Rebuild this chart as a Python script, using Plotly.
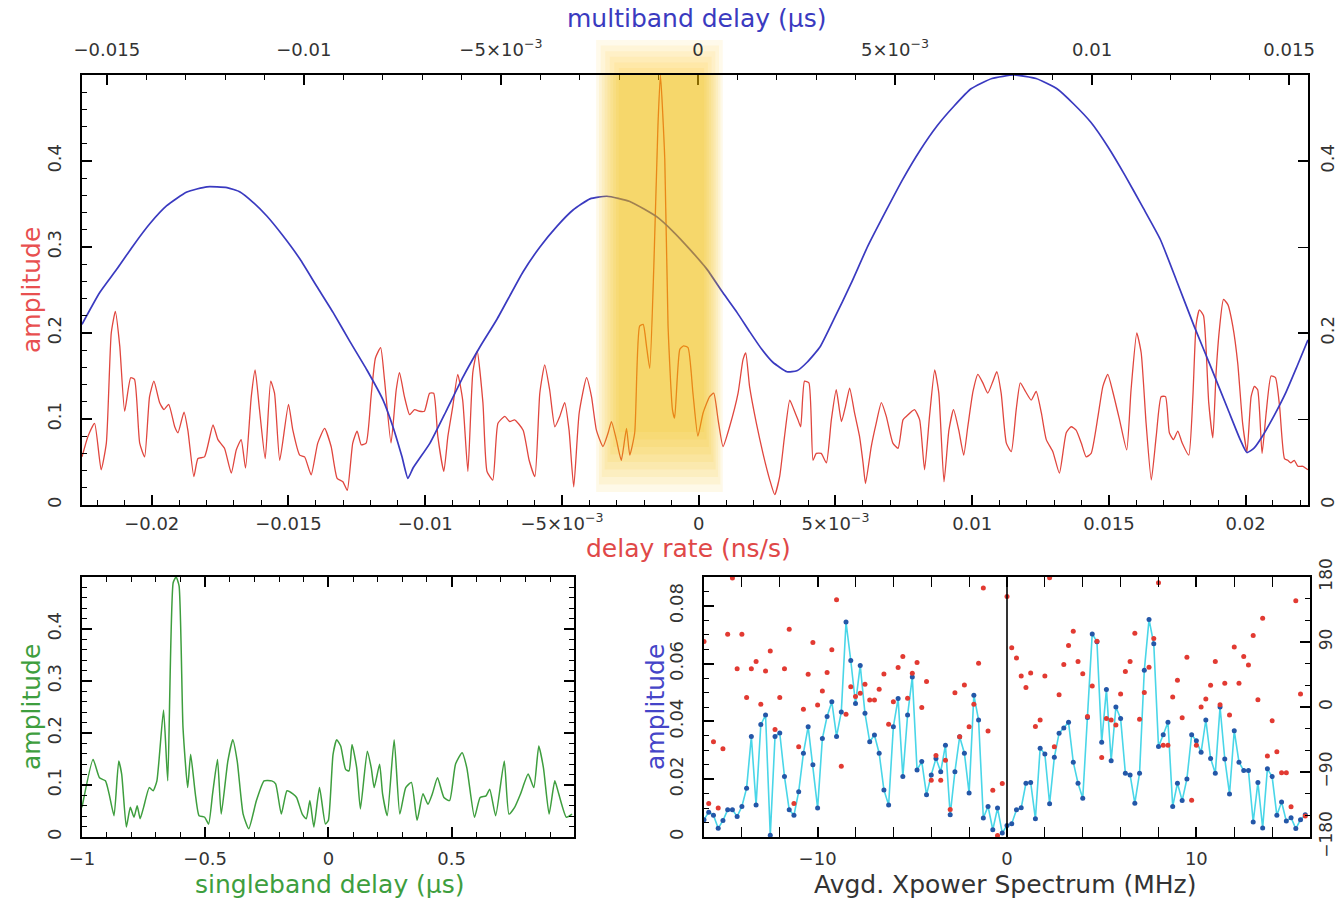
import plotly.graph_objects as go

# ---------------- data ----------------
# top panel: red = amplitude vs delay rate (ns/s)
rate_top = [
    -0.02255, -0.02233, -0.02209, -0.02185, -0.02166, -0.02148, -0.02133, -0.02117, -0.02099, -0.02077,
    -0.02063, -0.02044, -0.02026, -0.02008, -0.01992, -0.01971, -0.01955, -0.01938, -0.01916, -0.01904,
    -0.01882, -0.01868, -0.01846, -0.01831, -0.01807, -0.01776, -0.01758, -0.01734, -0.01709, -0.01691,
    -0.01673, -0.01657, -0.01636, -0.01622, -0.01606, -0.01585, -0.01565, -0.01551, -0.01532, -0.01500,
    -0.01484, -0.01459, -0.01441, -0.01417, -0.01393, -0.01368, -0.01344, -0.01322, -0.01301, -0.01285,
    -0.01265, -0.01249, -0.01234, -0.01216, -0.01198, -0.01182, -0.01163, -0.01149, -0.01125, -0.01106,
    -0.01094, -0.01076, -0.01057, -0.01039, -0.01021, -0.01003, -0.00984, -0.00969, -0.00954, -0.00932,
    -0.00917, -0.00899, -0.00881, -0.00863, -0.00844, -0.00826, -0.00810, -0.00789, -0.00774, -0.00753,
    -0.00734, -0.00709, -0.00691, -0.00673, -0.00642, -0.00620, -0.00599, -0.00581, -0.00563, -0.00545,
    -0.00526, -0.00508, -0.00490, -0.00474, -0.00457, -0.00437, -0.00410, -0.00392, -0.00374, -0.00350,
    -0.00331, -0.00319, -0.00301, -0.00283, -0.00264, -0.00252, -0.00234, -0.00216, -0.00203, -0.00191,
    -0.00179, -0.00164, -0.00149, -0.00140, -0.00124, -0.00112, -0.00096, -0.00088, -0.00069, -0.00055,
    -0.00039, -0.00021, -0.00003, 0.00016, 0.00040, 0.00055, 0.00071, 0.00089, 0.00113, 0.00144,
    0.00162, 0.00172, 0.00186, 0.00211, 0.00235, 0.00260, 0.00278, 0.00296, 0.00314, 0.00333,
    0.00348, 0.00363, 0.00373, 0.00387, 0.00403, 0.00418, 0.00430, 0.00448, 0.00467, 0.00485,
    0.00503, 0.00522, 0.00537, 0.00552, 0.00570, 0.00588, 0.00601, 0.00610, 0.00631, 0.00649,
    0.00668, 0.00686, 0.00710, 0.00729, 0.00747,
    0.00759, 0.00789, 0.00808, 0.00826, 0.00844, 0.00863, 0.00878, 0.00897, 0.00915, 0.00932,
    0.00951, 0.00969, 0.00984, 0.01003, 0.01021, 0.01039, 0.01057, 0.01076, 0.01090, 0.01106,
    0.01125, 0.01143, 0.01161, 0.01176, 0.01195, 0.01216, 0.01234, 0.01253, 0.01271, 0.01295,
    0.01319, 0.01344, 0.01362, 0.01380, 0.01399, 0.01417, 0.01435, 0.01460, 0.01478, 0.01496,
    0.01514, 0.01539, 0.01565, 0.01581, 0.01602, 0.01618, 0.01636, 0.01655, 0.01673, 0.01691,
    0.01707, 0.01721, 0.01736, 0.01752, 0.01768, 0.01792, 0.01807, 0.01819, 0.01831, 0.01846,
    0.01865, 0.01880, 0.01892, 0.01904, 0.01919, 0.01935, 0.01953, 0.01971, 0.01989, 0.02005,
    0.02020, 0.02032, 0.02044, 0.02060, 0.02075, 0.02093, 0.02109, 0.02124, 0.02142, 0.02154,
    0.02166, 0.02178, 0.02191, 0.02209, 0.02228,
]
amp_rate = [
    0.056, 0.080, 0.095, 0.041, 0.072, 0.200, 0.225, 0.185, 0.109, 0.148,
    0.146, 0.072, 0.056, 0.126, 0.144, 0.119, 0.111, 0.117, 0.091, 0.084,
    0.108, 0.087, 0.033, 0.054, 0.056, 0.093, 0.076, 0.066, 0.037, 0.064,
    0.076, 0.043, 0.126, 0.157, 0.111, 0.054, 0.144, 0.130, 0.052, 0.117,
    0.087, 0.058, 0.056, 0.035, 0.072, 0.089, 0.068, 0.031, 0.027, 0.017,
    0.072, 0.086, 0.070, 0.072, 0.126, 0.171, 0.183, 0.146, 0.072, 0.134,
    0.154, 0.126, 0.105, 0.111, 0.109, 0.109, 0.130, 0.130, 0.080, 0.039,
    0.080, 0.115, 0.152, 0.122, 0.039, 0.154, 0.179, 0.119, 0.039, 0.029,
    0.095, 0.103, 0.097, 0.099, 0.087, 0.052, 0.033, 0.130, 0.163, 0.134,
    0.091, 0.103, 0.119, 0.087, 0.021, 0.107, 0.148, 0.126, 0.087, 0.068,
    0.084, 0.097, 0.076, 0.052, 0.089, 0.058, 0.084, 0.208, 0.210, 0.185,
    0.159, 0.278, 0.441, 0.500, 0.402, 0.208, 0.111, 0.101, 0.181, 0.185,
    0.183, 0.130, 0.080, 0.107, 0.126, 0.130, 0.099, 0.068, 0.091, 0.130,
    0.169, 0.177, 0.138, 0.095, 0.060, 0.029, 0.012, 0.033, 0.080, 0.122,
    0.111, 0.099, 0.091, 0.144, 0.142, 0.052, 0.060, 0.060, 0.049, 0.099,
    0.134, 0.097, 0.115, 0.136, 0.107, 0.080, 0.049, 0.025, 0.068, 0.095,
    0.119, 0.103, 0.072, 0.066, 0.099,
    0.103, 0.111, 0.099, 0.041, 0.103, 0.157, 0.130, 0.027, 0.087, 0.111,
    0.087, 0.058, 0.091, 0.132, 0.152, 0.142, 0.130, 0.144, 0.155, 0.130,
    0.072, 0.062, 0.111, 0.142, 0.132, 0.122, 0.132, 0.107, 0.076, 0.062,
    0.037, 0.084, 0.091, 0.087, 0.072, 0.056, 0.060, 0.103, 0.138, 0.152,
    0.132, 0.099, 0.064, 0.134, 0.200, 0.177, 0.095, 0.029, 0.080, 0.126,
    0.126, 0.084, 0.076, 0.086, 0.072, 0.058, 0.126, 0.210, 0.227, 0.220,
    0.119, 0.078, 0.154, 0.204, 0.239, 0.233, 0.208, 0.165, 0.095, 0.062,
    0.126, 0.138, 0.134, 0.060, 0.107, 0.150, 0.148, 0.115, 0.054, 0.052,
    0.049, 0.052, 0.045, 0.045, 0.041,
]

# top panel: blue = amplitude vs multiband delay (us)
mbd = [
    -0.01563, -0.01518, -0.01475, -0.01434, -0.01391, -0.01348, -0.01297, -0.01246, -0.01195, -0.01162,
    -0.01129, -0.01094, -0.01053, -0.01010, -0.00967, -0.00926, -0.00883, -0.00840, -0.00799, -0.00774,
    -0.00751, -0.00736, -0.00723, -0.00680, -0.00637, -0.00596, -0.00553, -0.00510, -0.00444, -0.00401,
    -0.00358, -0.00317, -0.00274, -0.00231, -0.00173, -0.00104, -0.00063, -0.00020, 0.00023, 0.00063,
    0.00099, 0.00132, 0.00162, 0.00190, 0.00226, 0.00251, 0.00277, 0.00310, 0.00345, 0.00388,
    0.00431, 0.00477, 0.00520, 0.00563, 0.00607, 0.00650, 0.00693, 0.00746, 0.00802, 0.00858,
    0.00911, 0.00954, 0.00997, 0.01041, 0.01084, 0.01129, 0.01173, 0.01216, 0.01259, 0.01302,
    0.01345, 0.01376, 0.01393, 0.01411, 0.01431, 0.01462, 0.01492, 0.01520, 0.01548,
]
amp_mbd = [
    0.210, 0.247, 0.274, 0.301, 0.327, 0.348, 0.364, 0.370, 0.369, 0.364,
    0.352, 0.336, 0.313, 0.286, 0.254, 0.224, 0.190, 0.157, 0.122, 0.091,
    0.056, 0.031, 0.043, 0.072, 0.111, 0.149, 0.184, 0.216, 0.271, 0.300,
    0.324, 0.343, 0.356, 0.359, 0.353, 0.335, 0.318, 0.297, 0.274, 0.247,
    0.224, 0.201, 0.181, 0.166, 0.155, 0.156, 0.166, 0.184, 0.216, 0.257,
    0.301, 0.342, 0.379, 0.412, 0.441, 0.464, 0.484, 0.496, 0.500, 0.496,
    0.484, 0.466, 0.445, 0.416, 0.383, 0.346, 0.309, 0.259, 0.208, 0.160,
    0.111, 0.076, 0.061, 0.066, 0.079, 0.104, 0.131, 0.161, 0.192,
]

# bottom-left: singleband delay
sb_delay = [
    -1.0, -0.955, -0.929, -0.905, -0.890, -0.870, -0.851, -0.839, -0.820, -0.804,
    -0.789, -0.776, -0.764, -0.750, -0.727, -0.711, -0.696, -0.669, -0.652, -0.630,
    -0.618, -0.606, -0.590, -0.571, -0.559, -0.540, -0.525, -0.502, -0.486, -0.470,
    -0.450, -0.435, -0.408, -0.388, -0.370, -0.346, -0.323, -0.292, -0.261, -0.230,
    -0.214, -0.191, -0.168, -0.144, -0.129, -0.106, -0.090, -0.075, -0.059, -0.036,
    -0.012, 0.0, 0.019, 0.034, 0.050, 0.070, 0.084, 0.096, 0.115, 0.130,
    0.158, 0.174, 0.186, 0.208, 0.220, 0.239, 0.267, 0.290, 0.314, 0.337,
    0.360, 0.384, 0.404, 0.422, 0.443, 0.469, 0.492, 0.516, 0.543, 0.562,
    0.593, 0.616, 0.640, 0.655, 0.679, 0.714, 0.733, 0.756, 0.780, 0.811,
    0.834, 0.854, 0.873, 0.896, 0.919, 0.935, 0.966, 0.989,
]
sb_amp = [
    0.057, 0.149, 0.114, 0.108, 0.083, 0.041, 0.146, 0.121, 0.019, 0.057,
    0.038, 0.060, 0.035, 0.057, 0.095, 0.089, 0.108, 0.244, 0.108, 0.489,
    0.500, 0.483, 0.210, 0.095, 0.159, 0.083, 0.041, 0.038, 0.025, 0.083,
    0.149, 0.044, 0.146, 0.187, 0.146, 0.044, 0.016, 0.070, 0.108, 0.108,
    0.102, 0.044, 0.089, 0.083, 0.076, 0.044, 0.035, 0.070, 0.019, 0.095,
    0.025, 0.032, 0.159, 0.187, 0.175, 0.130, 0.127, 0.178, 0.133, 0.054,
    0.165, 0.133, 0.095, 0.140, 0.083, 0.041, 0.187, 0.044, 0.095, 0.105,
    0.032, 0.083, 0.063, 0.083, 0.114, 0.076, 0.070, 0.140, 0.162, 0.133,
    0.038, 0.076, 0.079, 0.092, 0.041, 0.146, 0.044, 0.057, 0.083, 0.121,
    0.095, 0.175, 0.133, 0.044, 0.108, 0.083, 0.038, 0.044,
]

# bottom-right: averaged cross-power spectrum, 0.25 MHz channels from -16 to +15.75 MHz
freq = [-16 + 0.25 * i for i in range(128)]
xp_amp = [
    0.0060, 0.0086, 0.0075, 0.0030, 0.0057, 0.0094, 0.0094, 0.0071, 0.0106, 0.0169,
    0.0348, 0.0111, 0.0389, 0.0422, 0.0006, 0.0348, 0.0360, 0.0209, 0.0094, 0.0075,
    0.0157, 0.0290, 0.0382, 0.0250, 0.0100, 0.0341, 0.0417, 0.0468, 0.0348, 0.0433,
    0.0744, 0.0611, 0.0462, 0.0594, 0.0428, 0.0330, 0.0353, 0.0290, 0.0163, 0.0111,
    0.0382, 0.0479, 0.0209, 0.0422, 0.0554, 0.0232, 0.0261, 0.0146, 0.0215, 0.0272,
    0.0226, 0.0318, 0.0077, 0.0226, 0.0347, 0.0290, 0.0152, 0.0491, 0.0405, 0.0066,
    0.0106, 0.0025, 0.0100, 0.0014,
    0.0040, 0.0046, 0.0094, 0.0101, 0.0186, 0.0189, 0.0063, 0.0307, 0.0287, 0.0115,
    0.0276, 0.0359, 0.0377, 0.0397, 0.0259, 0.0186, 0.0134, 0.0414, 0.0703, 0.0676,
    0.0328, 0.0511, 0.0264, 0.0450, 0.0410, 0.0221, 0.0215, 0.0117, 0.0221, 0.0577,
    0.0753, 0.0669, 0.0313, 0.0354, 0.0397, 0.0106, 0.0186, 0.0126, 0.0201, 0.0354,
    0.0333, 0.0293, 0.0405, 0.0272, 0.0221, 0.0450, 0.0270, 0.0149, 0.0368, 0.0259,
    0.0230, 0.0230, 0.0052, 0.0189, 0.0031, 0.0236, 0.0209, 0.0075, 0.0121, 0.0055,
    0.0067, 0.0029, 0.0060, 0.0077,
]
xp_phase = [
    90.7, -133.7, -48, -139.7, -57.8, 100.9, 178.6, 52.8, 100.9, 13,
    52.8, 62.9, 3.7, 50, 77.7, -31, 13, 52.8, 107.8, -133.7,
    -55, -3.2, 45.3, 89.3, 2.8, 22.2, 47.7, 79.1, 148.5, -81.9,
    -10.2, 28.2, 14.4, 19, 31.5, 9.7, 9.7, 24.5, 45.8, -24,
    7.4, 54.6, 69.9, 12, 46.7, 61.5, -0.6, 35.2, -101.3, -67.1,
    -101.3, -73.6, -142, 19.9, -41.2, 30.5, -27.3, 3.7, 60.6, 164.7,
    -33.3, -115.2, -178, -106,
    153, 82, 68, 43, 27, 47, -27, -18, 43, 179,
    -55, 17, 59, 85, 105, 63, 46, -13, 29, 91,
    -70, -16, -18, -25, 18, 49, 63, 102, -17, 20,
    55, 95, 172, -53, -53, 14, 37, -15, 69, -129,
    -53, 0, 11, 30, 63, 3, 33, -11, 83, 33,
    70, 58, 99, 10, 123, -68, -19, -62, -91, -91,
    -138, 147, 18, -151,
]

rate_ticks = [-0.02, -0.015, -0.01, -0.005, 0, 0.005, 0.01, 0.015, 0.02]
rate_ticktext = ["\u22120.02", "\u22120.015", "\u22120.01", "\u22125\u00d710<sup>\u22123</sup>", "0",
                 "5\u00d710<sup>\u22123</sup>", "0.01", "0.015", "0.02"]
mbd_ticks = [-0.015, -0.01, -0.005, 0, 0.005, 0.01, 0.015]
mbd_ticktext = ["\u22120.015", "\u22120.01", "\u22125\u00d710<sup>\u22123</sup>", "0",
                "5\u00d710<sup>\u22123</sup>", "0.01", "0.015"]

# ---------------- styling ----------------
FONT = "DejaVu Sans"
TICKFONT = dict(family=FONT, size=18, color="#333333")
RED = "#E0463E"
BLUE = "#3A3AC0"
GREEN = "#3E9E3E"


def axis(**kw):
    base = dict(showline=True, linecolor="black", linewidth=1.8, ticks="inside",
                tickcolor="black", ticklen=10, tickwidth=1.5, showgrid=False,
                zeroline=False, tickfont=TICKFONT, automargin=False)
    base.update(kw)
    return base


def minor(dt, n=5):
    return dict(ticks="inside", ticklen=n, tickcolor="black", tickwidth=1.2, dtick=dt, showgrid=False)


W, H = 1337, 909
def px(x):
    return x / W
def py(y):
    return 1 - y / H

fig = go.Figure()

fig.add_trace(go.Scatter(x=rate_top, y=amp_rate, mode="lines",
                         line=dict(color=RED, width=1.3, shape="spline", smoothing=0.5),
                         xaxis="x", yaxis="y", hoverinfo="skip"))
# same red series attached (invisibly) to the right-hand amplitude axis so that axis is drawn
fig.add_trace(go.Scatter(x=rate_top, y=amp_rate, mode="lines", line=dict(width=0),
                         opacity=0, xaxis="x", yaxis="y2", hoverinfo="skip"))
fig.add_trace(go.Scatter(x=mbd, y=amp_mbd, mode="lines",
                         line=dict(color=BLUE, width=1.7, shape="spline", smoothing=0.5),
                         xaxis="x2", yaxis="y", hoverinfo="skip"))
fig.add_trace(go.Scatter(x=sb_delay, y=sb_amp, mode="lines",
                         line=dict(color=GREEN, width=1.5, shape="spline", smoothing=0.5),
                         xaxis="x3", yaxis="y3", hoverinfo="skip"))
fig.add_trace(go.Scatter(x=freq, y=xp_amp, mode="lines+markers",
                         line=dict(color="#49D6E8", width=1.6),
                         marker=dict(color="#2457A8", size=5),
                         xaxis="x4", yaxis="y4", hoverinfo="skip"))
fig.add_trace(go.Scatter(x=freq, y=xp_phase, mode="markers",
                         marker=dict(color="#E23A32", size=5),
                         xaxis="x4", yaxis="y5", hoverinfo="skip"))

top_dom_y = [py(505), py(75)]
bot_dom_y = [py(837), py(577)]

fig.update_layout(
    width=W, height=H,
    margin=dict(l=0, r=0, t=0, b=0, autoexpand=False),
    paper_bgcolor="white", plot_bgcolor="white",
    showlegend=False,
    font=dict(family=FONT),
    xaxis=axis(domain=[px(82), px(1308)], anchor="y", range=[-0.02255, 0.02228],
               tickvals=rate_ticks, ticktext=rate_ticktext, minor=minor(0.001),
               ticklabelstandoff=1),
    xaxis2=axis(overlaying="x", side="top", anchor="y", range=[-0.01563, 0.01548],
                tickvals=mbd_ticks, ticktext=mbd_ticktext, minor=minor(0.001),
                ticklabelstandoff=10),
    yaxis=axis(domain=top_dom_y, anchor="x", range=[0, 0.5],
               tickvals=[0, 0.1, 0.2, 0.3, 0.4], ticktext=["0", "0.1", "0.2", "0.3", "0.4"],
               tickangle=-90, minor=minor(0.02), ticklabelstandoff=12),
    yaxis2=axis(overlaying="y", side="right", anchor="x", range=[0, 0.5],
                tickvals=[0, 0.2, 0.4], ticktext=["0", "0.2", "0.4"],
                tickangle=-90, minor=minor(0.1, 10), ticklabelstandoff=2),
    xaxis3=axis(domain=[px(82), px(574)], anchor="y3", range=[-1, 0.997],
                tickvals=[-1, -0.5, 0, 0.5], ticktext=["\u22121", "\u22120.5", "0", "0.5"],
                minor=minor(0.1), mirror="allticks", ticklabelstandoff=4),
    yaxis3=axis(domain=bot_dom_y, anchor="x3", range=[0, 0.5],
                tickvals=[0, 0.1, 0.2, 0.3, 0.4], ticktext=["0", "0.1", "0.2", "0.3", "0.4"],
                tickangle=-90, minor=minor(0.02), mirror="allticks", ticklabelstandoff=12),
    xaxis4=axis(domain=[px(704), px(1310)], anchor="y4", range=[-16, 16],
                tickvals=[-10, 0, 10], ticktext=["\u221210", "0", "10"],
                minor=minor(2), mirror="allticks", ticklabelstandoff=4),
    yaxis4=axis(domain=bot_dom_y, anchor="x4", range=[0, 0.09],
                tickvals=[0, 0.02, 0.04, 0.06, 0.08], ticktext=["0", "0.02", "0.04", "0.06", "0.08"],
                tickangle=-90, minor=minor(0.005), ticklabelstandoff=12),
    yaxis5=axis(overlaying="y4", side="right", anchor="x4", range=[-180, 180],
                tickvals=[-180, -90, 0, 90, 180], ticktext=["\u2212180", "\u221290", "0", "90", "180"],
                tickangle=-90, minor=minor(30), ticklabelstandoff=0,
                tickfont=dict(family=FONT, size=17, color="#333333")),
)

# yellow glow highlighting the fringe peak (drawn over the curves, translucent)
GLOW = "#F9BE00"
n_layers = 9
x_out, x_in = (-0.00375, 0.00088), (-0.00292, 0.00020)
y_out, y_in = 0.015, 0.085
for i in range(n_layers):
    f = i / (n_layers - 1)
    x0 = x_out[0] + (x_in[0] - x_out[0]) * f
    x1 = x_out[1] + (x_in[1] - x_out[1]) * f
    y0 = y_out + (y_in - y_out) * f
    fig.add_shape(type="rect", xref="x", yref="y", x0=x0, x1=x1, y0=y0, y1=0.5,
                  fillcolor=GLOW, opacity=0.09, line=dict(width=0), layer="above")
# glow fading out above the frame
for i in range(6):
    f = i / 5
    x0 = x_out[0] + (x_in[0] - x_out[0]) * f
    x1 = x_out[1] + (x_in[1] - x_out[1]) * f
    top = 40 + 28 * f
    fig.add_shape(type="rect", xref="x", yref="paper", x0=x0, x1=x1, y0=py(75), y1=py(top),
                  fillcolor=GLOW, opacity=0.08, line=dict(width=0), layer="below")

# zero line in the spectrum panel
fig.add_shape(type="line", xref="x4", yref="y4", x0=0, x1=0, y0=0, y1=0.09,
              line=dict(color="black", width=1.6))

TITLE = 25
ann = [
    ("multiband delay (\u03bcs)", 697, 18, BLUE, 0),
    ("amplitude", 31, 290, "#E85050", -90),
    ("delay rate (ns/s)", 688, 548, "#E04848", 0),
    ("amplitude", 31, 707, GREEN, -90),
    ("singleband delay (\u03bcs)", 330, 884, GREEN, 0),
    ("amplitude", 655, 707, "#4545C8", -90),
    ("Avgd. Xpower Spectrum (MHz)", 1005, 884, "#333333", 0),
]
for text, x, y, col, ang in ann:
    fig.add_annotation(text=text, x=px(x), y=py(y), xref="paper", yref="paper",
                       showarrow=False, textangle=ang, xanchor="center", yanchor="middle",
                       font=dict(family=FONT, size=TITLE, color=col))

fig.write_html("out.html", config={"displayModeBar": False},
               post_script="document.body.style.margin='0';document.body.style.overflow='hidden';")
